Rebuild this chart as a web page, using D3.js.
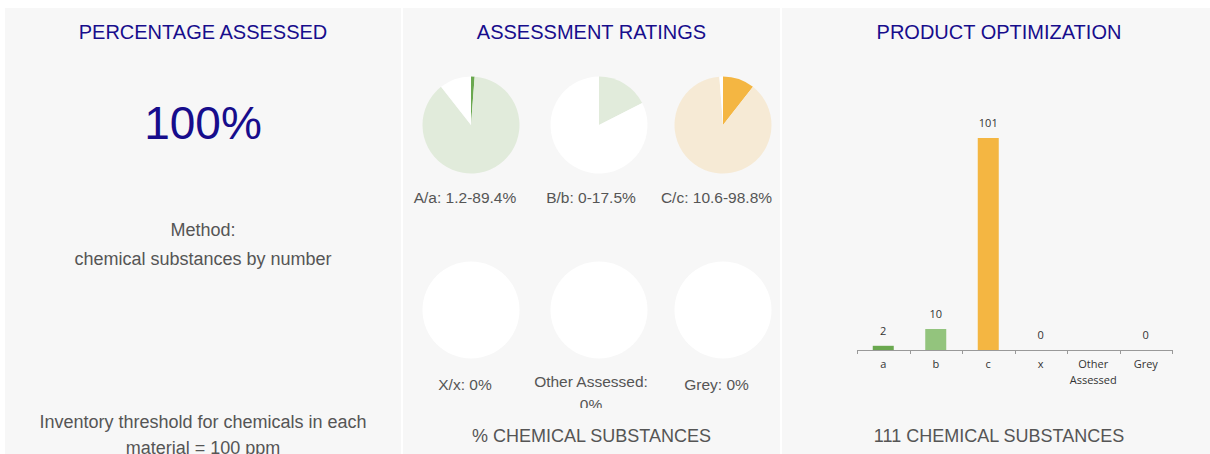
<!DOCTYPE html>
<html>
<head>
<meta charset="utf-8">
<script src="https://cdn.jsdelivr.net/npm/d3@7"></script>
<style>
  html, body { margin: 0; padding: 0; background: #ffffff; overflow: hidden; }
  svg { display: block; }
</style>
</head>
<body>
<script>
// chart data
const percentAssessed = "100%";
const methodLines = ["Method:", "chemical substances by number"];
const thresholdLines = ["Inventory threshold for chemicals in each", "material = 100 ppm"];

const pieLabels = ["A/a: 1.2-89.4%", "B/b: 0-17.5%", "C/c: 10.6-98.8%", "X/x: 0%", "Other Assessed:|0%", "Grey: 0%"];
// slices: [dark, light, rest] in percent
const pieDark = [1.2, 0, 10.6, 0, 0, 0];
const pieLight = [88.2, 17.5, 88.2, 0, 0, 0];
const pieRest = [10.6, 82.5, 1.2, 100, 100, 100];

const barCategories = ["a", "b", "c", "x", "Other Assessed", "Grey"];
const barValues = [2, 10, 101, 0, null, 0];

const titles = ["PERCENTAGE ASSESSED", "ASSESSMENT RATINGS", "PRODUCT OPTIMIZATION"];

// colours
const titleColor = "#170d8c";
const textColor = "#555555";
const panelBg = "#f7f7f7";
const darkColors = ["#6aa84f", "#93c47d", "#f4b642"];
const lightColors = ["#e1ebdb", "#e1ebdb", "#f6ead5"];
const barColors = ["#6aa84f", "#93c47d", "#f4b642", "#999999", "#cccccc", "#bbbbbb"];

const width = 1210, height = 454;

const svg = d3.select("body").append("svg")
    .attr("width", width)
    .attr("height", height)
    .style("font-family", "'Liberation Sans', Arial, sans-serif");

// panels
const panels = [
  { x: 5, w: 396 },
  { x: 403, w: 377 },
  { x: 782, w: 434 }
];

svg.selectAll("rect.panel")
  .data(panels)
  .enter().append("rect")
    .attr("class", "panel")
    .attr("x", d => d.x)
    .attr("y", 8)
    .attr("width", d => d.w)
    .attr("height", height - 8)
    .attr("fill", panelBg);

svg.selectAll("text.title")
  .data(titles)
  .enter().append("text")
    .attr("class", "title")
    .attr("x", (d, i) => panels[i].x + panels[i].w / 2)
    .attr("y", 39)
    .attr("text-anchor", "middle")
    .attr("font-size", 20)
    .attr("fill", titleColor)
    .text(d => d);

// ---- panel 1: percentage assessed
const p1x = panels[0].x + panels[0].w / 2;

svg.append("text")
    .attr("x", p1x)
    .attr("y", 139)
    .attr("text-anchor", "middle")
    .attr("font-size", 46)
    .attr("fill", titleColor)
    .text(percentAssessed);

svg.selectAll("text.method")
  .data(methodLines)
  .enter().append("text")
    .attr("class", "method")
    .attr("x", p1x)
    .attr("y", (d, i) => 236 + i * 29)
    .attr("text-anchor", "middle")
    .attr("font-size", 18)
    .attr("fill", textColor)
    .text(d => d);

svg.selectAll("text.threshold")
  .data(thresholdLines)
  .enter().append("text")
    .attr("class", "threshold")
    .attr("x", p1x)
    .attr("y", (d, i) => 428 + i * 26)
    .attr("text-anchor", "middle")
    .attr("font-size", 18)
    .attr("fill", textColor)
    .text(d => d);

// ---- panel 2: pies
const pieCx = [471, 599, 723];
const pieCy = [125, 310];
const labelCx = [465, 591, 716.5];
const labelY = [203, 390];
const radius = 48.5;

const pie = d3.pie().sort(null).value(d => d.v);
const arc = d3.arc().innerRadius(0).outerRadius(radius);

svg.append("clipPath").attr("id", "labelClip")
  .append("rect")
    .attr("x", 403).attr("y", 360)
    .attr("width", 377).attr("height", 48);

pieLabels.forEach((label, i) => {
  const col = i % 3, row = Math.floor(i / 3);
  const slices = [
    { v: pieDark[i], c: darkColors[col === 1 ? 0 : col] },
    { v: pieLight[i], c: lightColors[col] },
    { v: pieRest[i], c: "#ffffff" }
  ];
  const g = svg.append("g")
      .attr("transform", `translate(${pieCx[col]}, ${pieCy[row]})`);
  g.selectAll("path")
    .data(pie(slices))
    .enter().append("path")
      .attr("d", arc)
      .attr("fill", d => d.data.c);

  const lines = label.split("|");
  const t = svg.append("text")
      .attr("text-anchor", "middle")
      .attr("font-size", 15.5)
      .attr("fill", textColor)
      .attr("clip-path", row === 1 ? "url(#labelClip)" : null);
  lines.forEach((ln, j) => {
    t.append("tspan")
      .attr("x", labelCx[col])
      .attr("y", labelY[row] - (lines.length > 1 ? 3 : 0) + j * 23)
      .text(ln);
  });
});

svg.append("text")
    .attr("x", panels[1].x + panels[1].w / 2)
    .attr("y", 442)
    .attr("text-anchor", "middle")
    .attr("font-size", 18)
    .attr("fill", textColor)
    .text("% CHEMICAL SUBSTANCES");

// ---- panel 3: bar chart
const x = d3.scaleBand()
    .domain(barCategories)
    .range([857, 1172])
    .paddingInner(0.6)
    .paddingOuter(0.3);

const yMax = d3.max(barValues);
const y = d3.scaleLinear()
    .domain([0, yMax])
    .range([350, 138]);

const chart = svg.append("g")
    .style("font-family", "'Open Sans', sans-serif");

chart.selectAll("rect.bar")
  .data(barCategories)
  .enter().append("rect")
    .attr("class", "bar")
    .attr("x", d => x(d))
    .attr("y", (d, i) => y(barValues[i] || 0))
    .attr("width", x.bandwidth())
    .attr("height", (d, i) => y(0) - y(barValues[i] || 0))
    .attr("fill", (d, i) => barColors[i]);

chart.selectAll("text.value")
  .data(barCategories.filter((d, i) => barValues[i] !== null))
  .enter().append("text")
    .attr("class", "value")
    .attr("x", d => x(d) + x.bandwidth() / 2)
    .attr("y", d => y(barValues[barCategories.indexOf(d)]) - 11)
    .attr("text-anchor", "middle")
    .attr("font-size", 11)
    .attr("fill", "#333333")
    .text(d => barValues[barCategories.indexOf(d)]);

// axis line with ticks between categories
const step = x.step();
const edges = d3.range(barCategories.length + 1).map(i => x.range()[0] + i * step);

chart.append("line")
    .attr("x1", x.range()[0]).attr("x2", x.range()[1])
    .attr("y1", y(0) + 0.5).attr("y2", y(0) + 0.5)
    .attr("stroke", "#999999");

chart.selectAll("line.tick")
  .data(edges)
  .enter().append("line")
    .attr("class", "tick")
    .attr("x1", d => Math.round(d) + 0.5).attr("x2", d => Math.round(d) + 0.5)
    .attr("y1", y(0)).attr("y2", y(0) + 4)
    .attr("stroke", "#999999");

chart.selectAll("text.cat")
  .data(barCategories)
  .enter().append("text")
    .attr("class", "cat")
    .attr("text-anchor", "middle")
    .attr("font-size", 11)
    .attr("fill", "#333333")
    .each(function(d) {
      const words = d.split(" ");
      words.forEach((w, j) => {
        d3.select(this).append("tspan")
          .attr("x", x(d) + x.bandwidth() / 2)
          .attr("y", 368 + j * 16)
          .text(w);
      });
    });

svg.append("text")
    .attr("x", 999)
    .attr("y", 442)
    .attr("text-anchor", "middle")
    .attr("font-size", 18)
    .attr("fill", textColor)
    .text("111 CHEMICAL SUBSTANCES");
</script>
</body>
</html>
